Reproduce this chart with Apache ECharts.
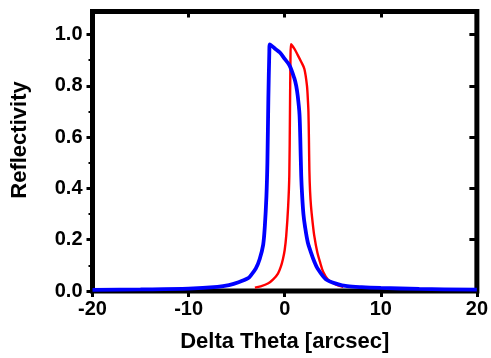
<!DOCTYPE html>
<html>
<head>
<meta charset="utf-8">
<script src="https://cdn.jsdelivr.net/npm/echarts@6/dist/echarts.min.js"></script>
<style>
  html, body { margin: 0; padding: 0; background: #fff; }
  #chart { width: 491px; height: 358px; }
</style>
</head>
<body>
<div id="chart"></div>
<script>
// Rocking curves: reflectivity vs. angular offset
const xTicks = [-20, -10, 0, 10, 20];
const yTicks = [0.0, 0.2, 0.4, 0.6, 0.8, 1.0];
const yMinorTicks = [0.1, 0.3, 0.5, 0.7, 0.9];

const blueX = [-20, -15, -10, -7, -5.8, -4.8, -3.8, -3.5, -3.0, -2.6, -2.24, -2.07, -1.9, -1.8, -1.7, -1.6, -1.55,
               -1.0, -0.5, 0.0, 0.5, 1.0, 1.2, 1.36, 1.54, 1.62, 1.72, 1.82, 1.95, 2.12, 2.4, 2.74, 3.08, 3.42,
               4.28, 5.5, 6.5, 8, 10, 14, 20];
const blueY = [0.004, 0.006, 0.009, 0.016, 0.023, 0.034, 0.05, 0.062, 0.088, 0.125, 0.18, 0.25, 0.37, 0.5, 0.75, 0.93, 0.962,
               0.945, 0.93, 0.905, 0.88, 0.83, 0.80, 0.76, 0.69, 0.6, 0.45, 0.37, 0.3, 0.25, 0.19, 0.15, 0.115, 0.088,
               0.046, 0.027, 0.019, 0.015, 0.012, 0.008, 0.005];

const redX = [-3.1, -2.5, -1.7, -1.2, -0.7, -0.4, -0.18, 0.0, 0.16, 0.36, 0.48, 0.55, 0.6, 0.65,
              1.0, 1.36, 1.7, 2.05, 2.32, 2.42, 2.47, 2.52, 2.57, 2.64, 2.74, 2.9, 3.08, 3.4, 3.7, 4.0, 4.5, 5.2, 6.1];
const redY = [0.013, 0.018, 0.03, 0.045, 0.068, 0.095, 0.125, 0.16, 0.215, 0.33, 0.45, 0.7, 0.9, 0.962,
              0.945, 0.92, 0.895, 0.866, 0.80, 0.74, 0.70, 0.6, 0.47, 0.39, 0.33, 0.27, 0.215, 0.15, 0.11, 0.075, 0.045, 0.028, 0.016];

const pairs = (xs, ys) => xs.map((x, i) => [x, ys[i]]);

const FONT = '"Liberation Sans", Arial, sans-serif';
const labelFont = { fontFamily: FONT, fontWeight: 'bold', fontSize: 20, color: '#000' };
const hiddenLine = { show: false, onZero: false };
const tickStyle = { color: '#000', width: 3 };

const chart = echarts.init(document.getElementById('chart'), null, { renderer: 'canvas' });
chart.setOption({
  animation: false,
  backgroundColor: '#fff',
  grid: {
    left: 92.5, right: 10, top: 11.5, bottom: 62,
    show: true, borderColor: '#000', borderWidth: 5, backgroundColor: 'transparent'
  },
  xAxis: [
    {
      type: 'value', position: 'bottom', min: xTicks[0], max: xTicks[xTicks.length - 1], interval: 10,
      axisLine: hiddenLine,
      axisTick: { show: true, inside: false, length: 6, customValues: xTicks, lineStyle: tickStyle },
      splitLine: { show: false },
      axisLabel: Object.assign({ margin: 8, customValues: xTicks, formatter: v => String(v) }, labelFont),
      name: 'Delta Theta [arcsec]', nameLocation: 'middle', nameGap: 40,
      nameTextStyle: { fontFamily: FONT, fontWeight: 'bold', fontSize: 22, color: '#000' }
    },
    {
      // mirrored ticks along the top edge of the frame
      type: 'value', position: 'top', min: xTicks[0], max: xTicks[xTicks.length - 1], interval: 10,
      axisLine: hiddenLine,
      axisTick: { show: true, inside: true, length: 6, customValues: xTicks, lineStyle: tickStyle },
      axisLabel: { show: false }, splitLine: { show: false }
    }
  ],
  yAxis: [
    {
      type: 'value', position: 'left', min: 0, max: 1.09, interval: 0.2,
      axisLine: hiddenLine,
      axisTick: { show: true, inside: false, length: 6, customValues: yTicks, lineStyle: tickStyle },
      splitLine: { show: false },
      axisLabel: Object.assign({
        margin: 10, customValues: yTicks, formatter: v => v.toFixed(1)
      }, labelFont)
    },
    {
      // mirrored ticks along the right edge of the frame
      type: 'value', position: 'right', min: 0, max: 1.09, interval: 0.2,
      axisLine: hiddenLine,
      axisTick: { show: true, inside: true, length: 7.5, customValues: yTicks, lineStyle: tickStyle },
      axisLabel: { show: false }, splitLine: { show: false }
    },
    {
      // short minor ticks between the labelled values on the left edge
      type: 'value', position: 'left', min: 0, max: 1.09,
      axisLine: hiddenLine,
      axisTick: { show: true, inside: false, length: 4, customValues: yMinorTicks, lineStyle: { color: '#000', width: 2 } },
      axisLabel: { show: false }, splitLine: { show: false }
    }
  ],
  graphic: [
    {
      type: 'text', x: 20, y: 140, rotation: Math.PI / 2,
      style: {
        text: 'Reflectivity', align: 'center', verticalAlign: 'middle',
        font: 'bold 22px "Liberation Sans", Arial, sans-serif', fill: '#000'
      }
    }
  ],
  series: [
    {
      type: 'line', data: pairs(redX, redY), showSymbol: false, smooth: 0.3, clip: true,
      lineStyle: { color: '#ff0000', width: 2.4 }, z: 3
    },
    {
      type: 'line', data: pairs(blueX, blueY), showSymbol: false, smooth: 0.3, clip: true,
      lineStyle: { color: '#0000ff', width: 3.8 }, z: 4
    }
  ]
});
</script>
</body>
</html>
